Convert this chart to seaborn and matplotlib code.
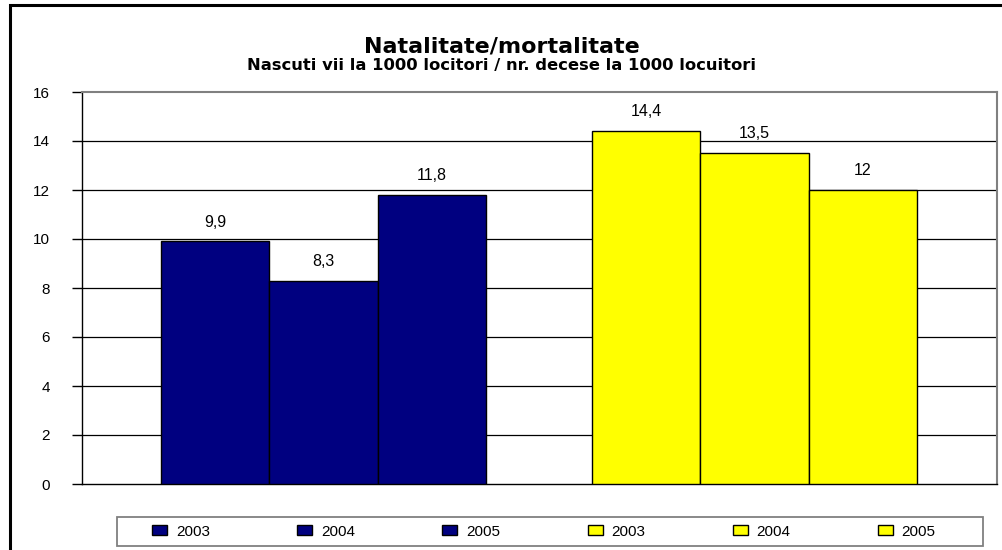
import pandas as pd
import matplotlib.pyplot as plt
import seaborn as sns
from matplotlib.patches import Patch, Rectangle

# values
groups = ['Natalitate', 'Mortalitate']
years = ['2003', '2004', '2005']
natalitate = [9.9, 8.3, 11.8]
mortalitate = [14.4, 13.5, 12.0]
y_ticks = [0, 2, 4, 6, 8, 10, 12, 14, 16]

NAVY = '#000080'
YELLOW = '#FFFF00'


def fmt(v):
    s = ('%.1f' % v).replace('.', ',')
    return s[:-2] if s.endswith(',0') else s


def plot_chart():
    df = pd.DataFrame({
        'grup': [groups[0]] * 3 + [groups[1]] * 3,
        'an': years * 2,
        'valoare': natalitate + mortalitate,
    })

    sns.set_style('white')
    plt.rcParams['font.family'] = ['Liberation Sans', 'DejaVu Sans']
    plt.rcParams['text.color'] = 'black'
    plt.rcParams['ytick.color'] = 'black'
    plt.rcParams['xtick.color'] = 'black'

    fig = plt.figure(figsize=(10.03, 5.5), dpi=100)
    ax = fig.add_axes([82 / 1003, 1 - 484 / 550, 915 / 1003, 392 / 550])

    sns.barplot(data=df, x='grup', y='valoare', hue='an', order=groups,
                hue_order=years, palette=[NAVY] * 3, width=0.754, gap=0,
                edgecolor='black', linewidth=1, saturation=1, ax=ax,
                legend=False, zorder=3)

    # second group is yellow
    for cont in ax.containers:
        for patch in cont.patches:
            if patch.get_x() + patch.get_width() / 2 > 0.5:
                patch.set_facecolor(YELLOW)
        labels = [fmt(p.get_height()) for p in cont.patches]
        ax.bar_label(cont, labels=labels, padding=8.5, fontsize=11.5,
                     color='black')

    ax.set_xlim(-0.56, 1.563)
    ax.set_ylim(0, 16)
    ax.set_yticks(y_ticks)
    ax.set_xticks([])
    ax.set_xlabel('')
    ax.set_ylabel('')
    ax.tick_params(axis='y', left=True, length=7, width=1, color='black',
                   labelcolor='black', pad=16, labelsize=11)
    for y in y_ticks[1:-1]:
        ax.axhline(y, color='black', lw=0.9, zorder=1)
    for side in ['left', 'bottom']:
        ax.spines[side].set_color('black')
        ax.spines[side].set_linewidth(1)
    for side in ['top', 'right']:
        ax.spines[side].set_color('#808080')
        ax.spines[side].set_linewidth(1.5)

    fig.text(0.5, 1 - 52.5 / 550, 'Natalitate/mortalitate', ha='center',
             va='baseline', fontsize=16, fontweight='bold',
             family='DejaVu Sans', color='black')
    fig.text(0.5, 1 - 70 / 550,
             'Nascuti vii la 1000 locitori / nr. decese la 1000 locuitori',
             ha='center', va='baseline', fontsize=11.8, fontweight='bold',
             family='DejaVu Sans', color='black')

    handles = [Patch(facecolor=NAVY, edgecolor='black', label=y) for y in years]
    handles += [Patch(facecolor=YELLOW, edgecolor='black', label=y) for y in years]
    leg = fig.legend(handles=handles, ncol=6, loc='center',
                     bbox_to_anchor=(544 / 1003, 1 - 531.5 / 550),
                     fontsize=11, frameon=False,
                     handlelength=0.98, handleheight=0.6, handletextpad=0.59,
                     columnspacing=5.7, borderpad=0, borderaxespad=0)
    for t in leg.get_texts():
        t.set_color('black')

    # legend box
    fig.patches.append(Rectangle((117 / 1003, 1 - 546 / 550), 866 / 1003, 29 / 550,
                                 transform=fig.transFigure, fill=False,
                                 edgecolor='#808080', linewidth=1.3))

    # outer chart border
    fig.patches.append(Rectangle((10 / 1003, -0.1), 1.2, 0.1 + 1 - 5 / 550,
                                 transform=fig.transFigure, fill=False,
                                 edgecolor='black', linewidth=2.2))

    fig.savefig('out.png', dpi=100)
    plt.close(fig)


if __name__ == "__main__":
    plot_chart()
